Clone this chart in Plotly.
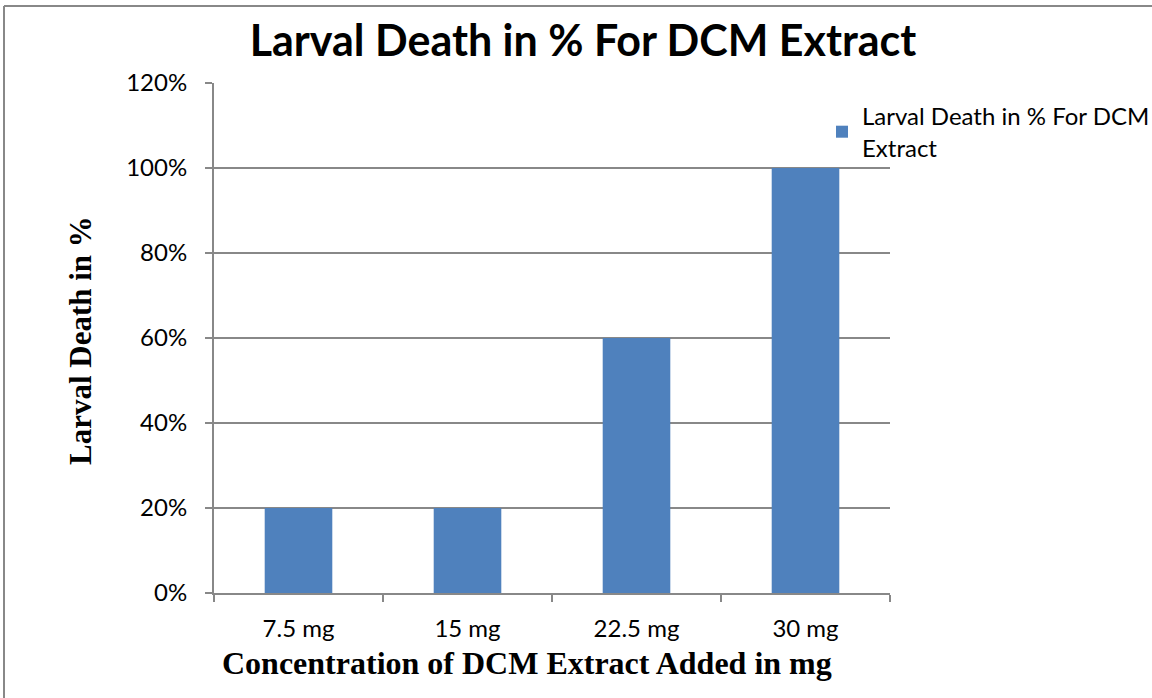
import plotly.graph_objects as go

categories = ["7.5 mg", "15 mg", "22.5 mg", "30 mg"]
values = [0.20, 0.20, 0.60, 1.00]
series_name = "Larval Death in % For DCM<br>Extract"
title_text = "Larval Death in % For DCM Extract"
x_title = "Concentration of DCM Extract Added in mg"
y_title = "Larval Death in %"

W, H = 1152, 698
L, R, T, B = 214, 890, 83, 593
SANS = "Lato, Open Sans, sans-serif"
SERIF = "Liberation Serif, Times New Roman, serif"

def px(x):
    return (x - L) / (R - L)

def py(y):
    return (B - y) / (B - T)

fig = go.Figure()
fig.add_trace(go.Bar(x=categories, y=values, name=series_name,
                     marker=dict(color="#4F81BD", line=dict(width=0)),
                     showlegend=True))

fig.update_layout(
    width=W, height=H,
    margin=dict(l=L, r=W - R, t=T, b=H - B, autoexpand=False),
    paper_bgcolor="white", plot_bgcolor="white",
    bargap=0.6,
    title=dict(text="<b>" + title_text + "</b>", x=583 / W, xanchor="center",
               y=1 - 41 / H, yanchor="middle",
               font=dict(family=SANS, size=43, color="black")),
    showlegend=True,
    legend=dict(x=px(822), y=py(94), xanchor="left", yanchor="top",
                font=dict(family=SANS, size=24, color="black"),
                bgcolor="rgba(0,0,0,0)", itemwidth=30, tracegroupgap=0),
    font=dict(family=SANS, size=24, color="black"),
)

fig.update_xaxes(
    type="category", showline=True, linecolor="#888888", linewidth=2,
    ticks="outside", tickson="boundaries", ticklen=7, tickcolor="#888888", tickwidth=2,
    tickfont=dict(family=SANS, size=24, color="black"),
    ticklabelstandoff=13,
    showgrid=False,
)
fig.update_yaxes(
    range=[0, 1.2], dtick=0.2, tickformat=".0%", showline=True, linecolor="#888888", linewidth=2,
    ticks="outside", ticklen=7, tickcolor="#888888", tickwidth=2,
    showgrid=True, gridcolor="#888888", gridwidth=1.5, zeroline=False,
    tickfont=dict(family=SANS, size=24, color="black"),
    ticklabelstandoff=13,
)

# axis titles
fig.add_annotation(text="<b>" + x_title + "</b>", xref="paper", yref="paper",
                   x=px(527), y=py(663), xanchor="center", yanchor="middle", showarrow=False,
                   font=dict(family=SERIF, size=32, color="black"))
fig.add_annotation(text="<b>" + y_title + "</b>", xref="paper", yref="paper",
                   x=px(80), y=py(341), xanchor="center", yanchor="middle", showarrow=False,
                   textangle=-90,
                   font=dict(family=SERIF, size=31, color="black"))

# outer frame (gray border at top and left, as in the reference)
fig.add_shape(type="line", xref="paper", yref="paper",
              x0=px(4), y0=py(6), x1=px(1152), y1=py(6),
              line=dict(color="#888888", width=2))
fig.add_shape(type="line", xref="paper", yref="paper",
              x0=px(4), y0=py(6), x1=px(4), y1=py(698),
              line=dict(color="#888888", width=2))

fig.write_html("out.html",
               config={"displayModeBar": False},
               post_script="document.body.style.margin='0';document.body.style.overflow='hidden';"
                           "document.documentElement.style.overflow='hidden';")
